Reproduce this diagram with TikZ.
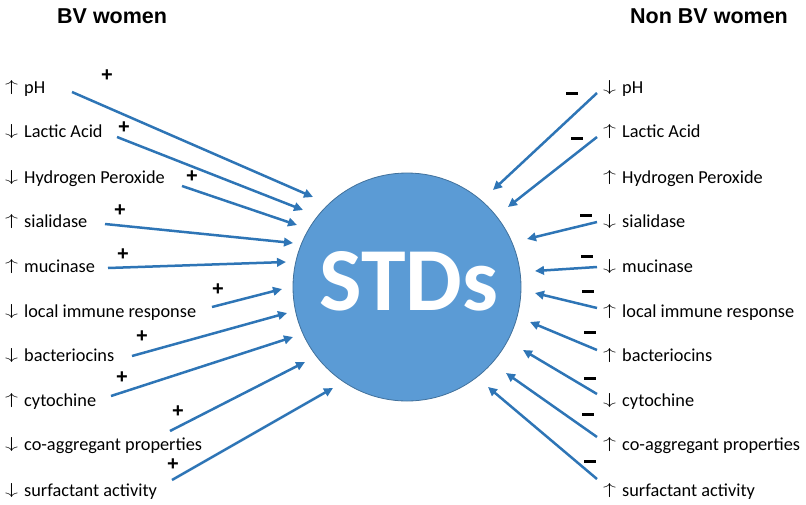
\documentclass[tikz,border=0pt]{standalone}
\usepackage{fontspec}
\usepackage{graphicx}
\setmainfont{Carlito}
\newfontfamily\hdrfont{Liberation Sans}
\usetikzlibrary{arrows.meta}
\definecolor{arrblue}{HTML}{2E75B6}
\definecolor{circfill}{HTML}{5B9BD5}
\definecolor{circdraw}{HTML}{41719C}
\newcommand{\ua}{\raisebox{1.8pt}{\scalebox{1.5}[0.92]{$\uparrow$}}\hspace{6pt}}
\newcommand{\da}{\raisebox{1.8pt}{\scalebox{1.5}[0.92]{$\downarrow$}}\hspace{6pt}}
\begin{document}
\begin{tikzpicture}[x=1pt,y=-1pt,
  lbl/.style={anchor=base west,inner sep=0pt,font=\fontsize{18.3}{20}\selectfont},
  hdr/.style={anchor=base west,inner sep=0pt,font=\hdrfont\bfseries\fontsize{21.5}{24}\selectfont},
  sgn/.style={inner sep=0pt,font=\hdrfont\bfseries\fontsize{20}{22}\selectfont},
  conn/.style={draw=arrblue,line width=2.5pt,-{Triangle[length=9pt,width=8.5pt]}}]
\useasboundingbox (0,0) rectangle (806,504);
\node[circle,fill=circfill,draw=circdraw,line width=0.8pt,minimum size=228pt,inner sep=0pt] (std) at (407,287) {};
\node[text=white,inner sep=0pt,font=\bfseries\fontsize{90}{90}\selectfont] (stdt) at (409,281) {STDs};
\node[hdr] (h1) at (57,23) {BV women};
\node[hdr] (h2) at (630,23) {Non BV women};
% left labels
\node[lbl] (l1) at (5,93) {\ua pH};
\node[lbl] (l2) at (5,137) {\da Lactic Acid};
\node[lbl] (l3) at (5,183) {\da Hydrogen Peroxide};
\node[lbl] (l4) at (5,227) {\ua sialidase};
\node[lbl] (l5) at (5,272) {\ua mucinase};
\node[lbl] (l6) at (5,317) {\da local immune response};
\node[lbl] (l7) at (5,361) {\da bacteriocins};
\node[lbl] (l8) at (5,406) {\ua cytochine};
\node[lbl] (l9) at (5,450) {\da co-aggregant properties};
\node[lbl] (l10) at (5,496) {\da surfactant activity};
% right labels
\node[lbl] (r1) at (603,93) {\da pH};
\node[lbl] (r2) at (603,137) {\ua Lactic Acid};
\node[lbl] (r3) at (603,183) {\ua Hydrogen Peroxide};
\node[lbl] (r4) at (603,227) {\da sialidase};
\node[lbl] (r5) at (603,272) {\da mucinase};
\node[lbl] (r6) at (603,317) {\ua local immune response};
\node[lbl] (r7) at (603,361) {\ua bacteriocins};
\node[lbl] (r8) at (603,406) {\da cytochine};
\node[lbl] (r9) at (603,450) {\ua co-aggregant properties};
\node[lbl] (r10) at (603,496) {\ua surfactant activity};
% plus signs
\node[sgn] (p1) at (107,76) {+};
\node[sgn] (p2) at (124,128) {+};
\node[sgn] (p3) at (192,177) {+};
\node[sgn] (p4) at (120,211) {+};
\node[sgn] (p5) at (123,255) {+};
\node[sgn] (p6) at (218,290) {+};
\node[sgn] (p7) at (142,337) {+};
\node[sgn] (p8) at (122,378) {+};
\node[sgn] (p9) at (178,412) {+};
\node[sgn] (p10) at (173,465) {+};
% minus signs
\foreach \i/\x/\y in {1/572/93,2/577/138,4/586/215,5/587/256,6/588/291,7/590/332,8/590/378,9/588/414,10/590/461}
  \fill[black] (\x-6,\y-1.5) rectangle (\x+6,\y+1.5) coordinate (m\i);
% left arrow coordinates
\coordinate (la1) at (72,92);   \coordinate (lb1) at (313,197);
\coordinate (la2) at (117,137); \coordinate (lb2) at (303,210);
\coordinate (la3) at (182,186); \coordinate (lb3) at (297,225);
\coordinate (la4) at (105,224); \coordinate (lb4) at (293,243);
\coordinate (la5) at (108,268); \coordinate (lb5) at (286,262);
\coordinate (la6) at (212,307); \coordinate (lb6) at (282,289);
\coordinate (la7) at (132,356); \coordinate (lb7) at (287,313);
\coordinate (la8) at (111,396); \coordinate (lb8) at (293,337);
\coordinate (la9) at (170,431); \coordinate (lb9) at (305,362);
\coordinate (la10) at (172,480); \coordinate (lb10) at (333,388);
\foreach \i in {1,...,10} \draw[conn] (la\i) -- (lb\i);
% right arrow coordinates
\coordinate (ra1) at (597,93);  \coordinate (rb1) at (493,190);
\coordinate (ra2) at (597,137); \coordinate (rb2) at (508,207);
\coordinate (ra4) at (597,222); \coordinate (rb4) at (527,239);
\coordinate (ra5) at (597,267); \coordinate (rb5) at (535,271);
\coordinate (ra6) at (597,308); \coordinate (rb6) at (535,293);
\coordinate (ra7) at (597,350); \coordinate (rb7) at (530,322);
\coordinate (ra8) at (597,394); \coordinate (rb8) at (523,350);
\coordinate (ra9) at (597,437); \coordinate (rb9) at (506,373);
\coordinate (ra10) at (597,479); \coordinate (rb10) at (488,387);
\foreach \i in {1,2,4,5,6,7,8,9,10} \draw[conn] (ra\i) -- (rb\i);
\end{tikzpicture}
\end{document}
